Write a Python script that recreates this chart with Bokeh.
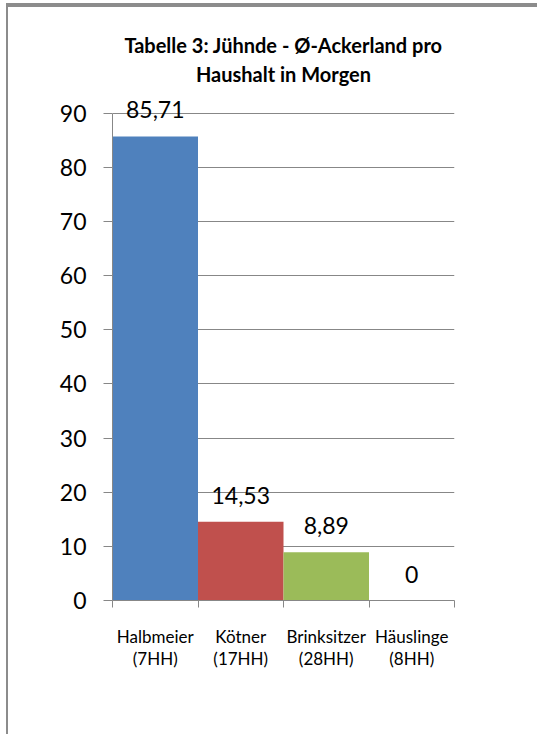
from bokeh.plotting import figure
from bokeh.models import ColumnDataSource, Range1d, FixedTicker, Title, LabelSet
from bokeh.core.properties import value
from bokeh.embed import file_html
from bokeh.resources import INLINE

categories = ["Halbmeier\n(7HH)", "Kötner\n(17HH)", "Brinksitzer\n(28HH)", "Häuslinge\n(8HH)"]
values = [85.71, 14.53, 8.89, 0.0]
value_labels = ["85,71", "14,53", "8,89", "0"]
bar_colors = ["#4F81BD", "#C0504D", "#9BBB59", "#8064A2"]
y_ticks = [0, 10, 20, 30, 40, 50, 60, 70, 80, 90]
title_lines = ["Tabelle 3: Jühnde - Ø-Ackerland pro", "Haushalt in Morgen"]

n = len(categories)
centers = [i + 0.5 for i in range(n)]
boundaries = list(range(n + 1))
label_headroom = 5.5  # extra y-range above the top tick so the top value label is not clipped

source = ColumnDataSource(dict(x=centers, top=values, color=bar_colors, label=value_labels))

GRAY = "#878787"

p = figure(width=531, height=731, title=None,
           x_range=Range1d(0, n), y_range=Range1d(y_ticks[0], y_ticks[-1] + label_headroom),
           output_backend="svg", toolbar_location=None,
           min_border_left=104, min_border_right=85,
           min_border_top=76, min_border_bottom=138)
p.styles = {"margin-left": "6px", "margin-top": "3px",
            "border-left": "2px solid #8c8c8c", "border-top": "4px solid #8c8c8c"}

p.vbar(x="x", top="top", bottom=0, width=1.0, source=source,
       fill_color="color", line_color=None)
p.add_layout(LabelSet(x="x", y="top", text="label", source=source,
                      text_font=value("Lato"), text_font_size=value("23px"),
                      text_align="center", text_baseline="alphabetic",
                      y_offset=18, text_color="black"))

# title: two centred lines, the second one nearest the plot
for line, standoff in zip(reversed(title_lines), [-4, 10]):
    p.add_layout(Title(text=line, align="center", text_font="Lato",
                       text_font_style="bold", text_font_size="20px",
                       text_color="black", standoff=standoff), "above")

p.outline_line_color = None
p.background_fill_color = "white"
p.border_fill_color = "white"

# x axis
p.xgrid.visible = False
xa = p.xaxis[0]
xa.ticker = FixedTicker(ticks=centers, minor_ticks=boundaries)
xa.major_label_overrides = {c: lab for c, lab in zip(centers, categories)}
xa.major_tick_in = 0
xa.major_tick_out = 0
xa.minor_tick_in = 0
xa.minor_tick_out = 7
xa.minor_tick_line_color = GRAY
xa.axis_line_color = GRAY
xa.major_label_text_font = "Lato"
xa.major_label_text_font_size = "17px"
xa.major_label_text_color = "black"
xa.major_label_text_line_height = 1.08
xa.major_label_standoff = 18

# y axis
ya = p.yaxis[0]
ya.ticker = FixedTicker(ticks=y_ticks)
ya.bounds = (y_ticks[0], y_ticks[-1])
ya.major_tick_in = 0
ya.major_tick_out = 9
ya.major_tick_line_color = GRAY
ya.minor_tick_line_color = None
ya.axis_line_color = GRAY
ya.major_label_text_font = "Lato"
ya.major_label_text_font_size = "23px"
ya.major_label_text_color = "black"
ya.major_label_standoff = 17
p.ygrid.grid_line_color = GRAY
p.ygrid.ticker = FixedTicker(ticks=y_ticks)

open("out.html", "w").write(file_html(p, INLINE))
